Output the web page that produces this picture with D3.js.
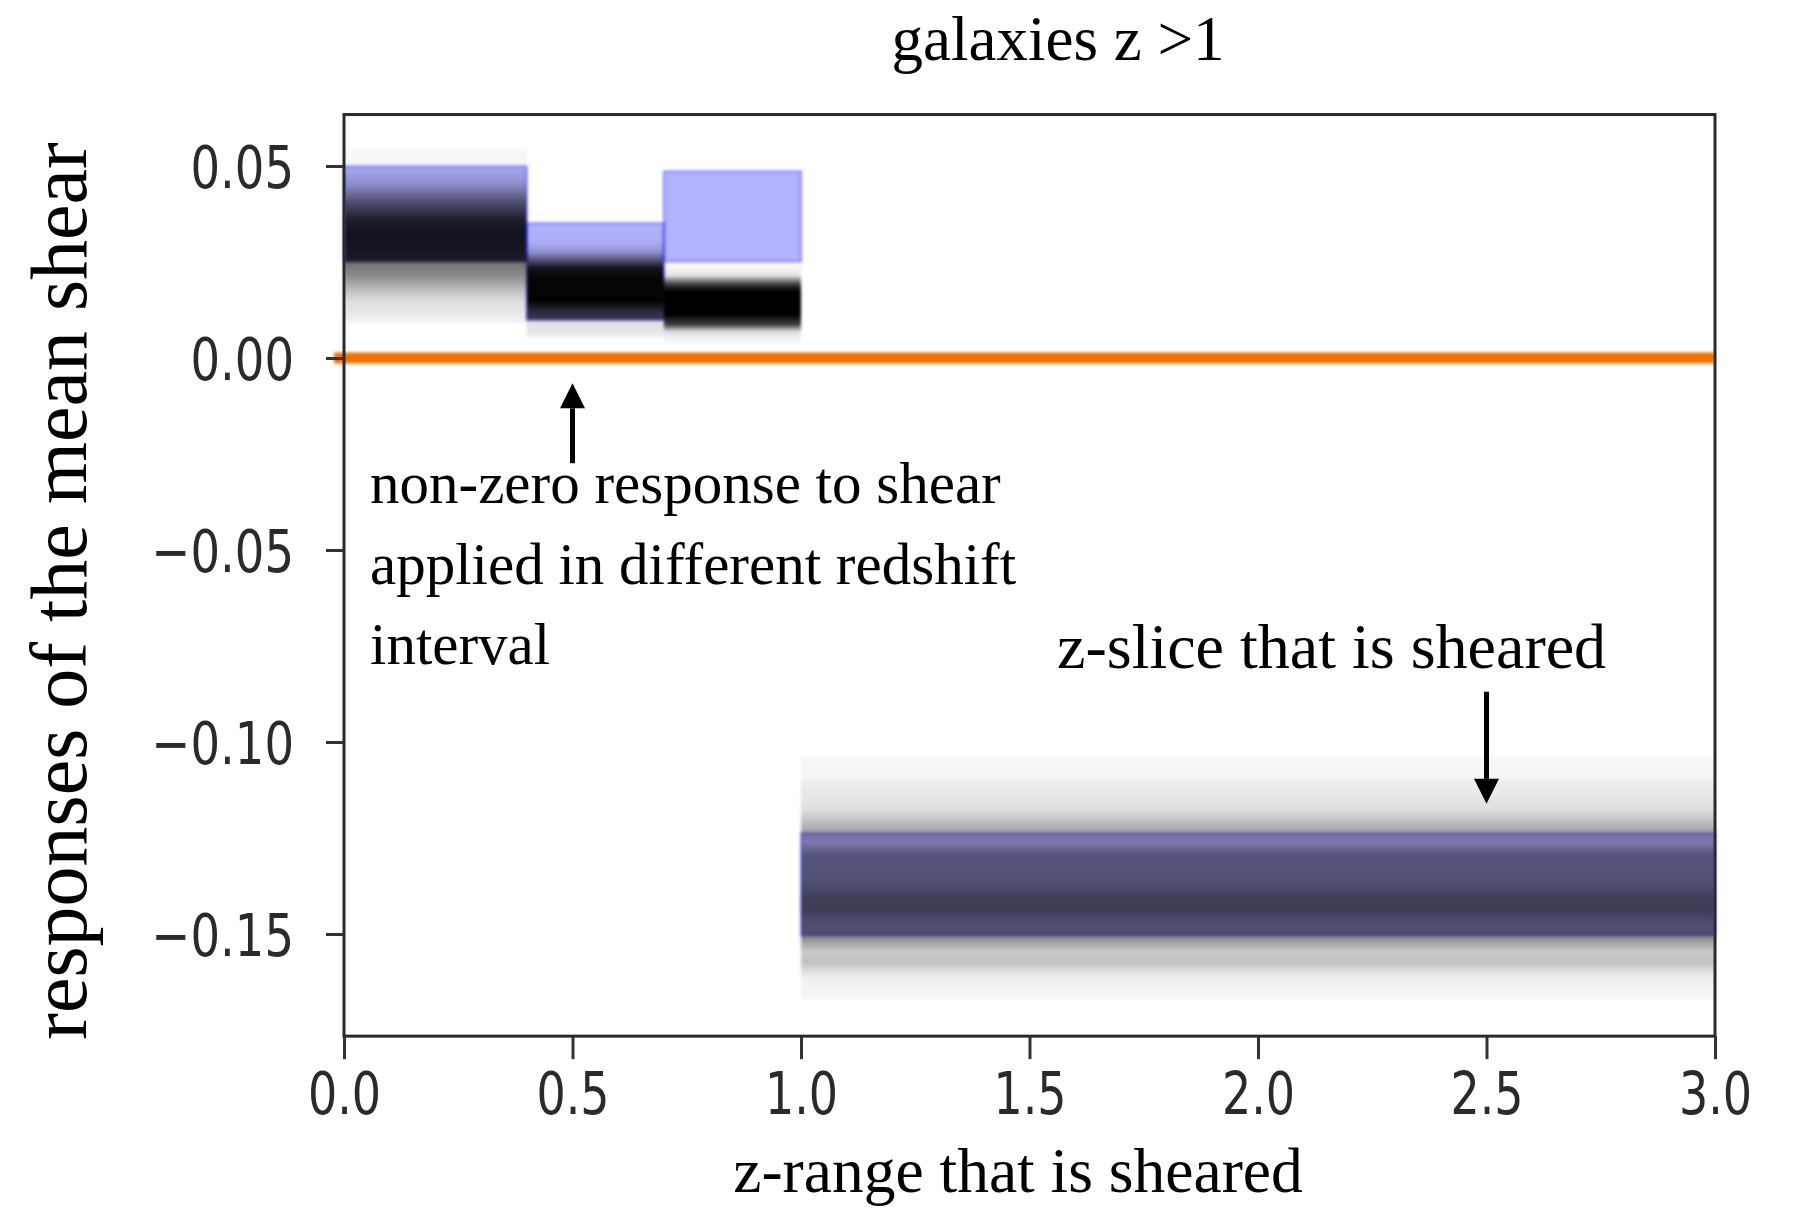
<!DOCTYPE html>
<html>
<head>
<meta charset="utf-8">
<script src="https://cdn.jsdelivr.net/npm/d3@7"></script>
<style>
  body { margin: 0; background: #fff; }
  svg { display: block; }
</style>
</head>
<body>
<div id="chart"></div>
<script>
// axis ticks and limits
const xTicks = [0, 0.5, 1.0, 1.5, 2.0, 2.5, 3.0];
const yTicks = [0.05, 0.00, -0.05, -0.10, -0.15];
const xLimits = [0, 3];
const yLimits = [-0.1766, 0.0634];

// redshift slices (z-range that is sheared)
const binStart = [0.0, 0.4, 0.7, 1.0];
const binEnd = [0.4, 0.7, 1.0, 3.0];

// expected response (blue boxes)
const blueLow = [0.0251, 0.0099, 0.0251, -0.1503];
const blueHigh = [0.0499, 0.0351, 0.0486, -0.1238];

// measured response: fraction of samples covering each value (top to bottom)
const coverage1 = [[0.0552, 0], [0.0540, 0.03], [0.0502, 0.04], [0.0452, 0.2], [0.0408, 0.55],
  [0.0363, 0.82], [0.0321, 0.9], [0.0277, 0.87], [0.0255, 0.85], [0.0248, 0.55], [0.0217, 0.47],
  [0.0180, 0.27], [0.0147, 0.13], [0.0103, 0.07], [0.0085, 0]];
const coverage2 = [[0.0355, 0], [0.0300, 0.03], [0.0275, 0.2], [0.0260, 0.45], [0.0234, 0.9],
  [0.0199, 0.98], [0.0147, 0.98], [0.0121, 0.75], [0.0103, 0.7], [0.0096, 0.12], [0.0065, 0.1],
  [0.0048, 0]];
const coverage3 = [[0.0245, 0], [0.0240, 0.03], [0.0215, 0.1], [0.0205, 0.4], [0.0190, 0.8],
  [0.0173, 1.0], [0.0113, 1.0], [0.0087, 0.75], [0.0069, 0.13], [0.0043, 0.03], [0.0035, 0]];
const coverage4 = [[-0.1030, 0], [-0.1040, 0.03], [-0.1095, 0.04], [-0.1105, 0.07], [-0.1173, 0.12],
  [-0.1208, 0.25], [-0.1234, 0.37], [-0.1260, 0.31], [-0.1294, 0.52], [-0.1364, 0.55],
  [-0.1408, 0.65], [-0.1442, 0.65], [-0.1468, 0.57], [-0.1500, 0.55], [-0.1512, 0.43],
  [-0.1547, 0.2], [-0.1573, 0.25], [-0.1599, 0.12], [-0.1616, 0.06], [-0.1668, 0.03], [-0.1675, 0]];
const coverages = [coverage1, coverage2, coverage3, coverage4];

// reference line at zero response
const zeroLineX = [-0.022, 3.0];

// annotation arrows
const arrowX = [0.5, 2.5];
const arrowTail = [-0.0274, -0.0869];
const arrowTip = [-0.0066, -0.1161];

const titleText = "galaxies z >1";
const xLabel = "z-range that is sheared";
const yLabel = "responses of the mean shear";
const noteLeft = ["non-zero response to shear", "applied in different redshift", "interval"];
const noteRight = "z-slice that is sheared";

const width = 1793, height = 1224;
const serif = "'Liberation Serif', 'Times New Roman', serif";
const sans = "'DejaVu Sans', sans-serif";

const x = d3.scaleLinear().domain(xLimits).range([344, 1715]);
const y = d3.scaleLinear().domain([0.05, -0.15]).range([166, 934]);

const svg = d3.select("#chart").append("svg")
  .attr("width", width)
  .attr("height", height);

const defs = svg.append("defs");
defs.append("filter").attr("id", "soft")
  .attr("x", "-5%").attr("y", "-5%").attr("width", "110%").attr("height", "110%")
  .append("feGaussianBlur").attr("stdDeviation", 1.6);

const plot = svg.append("g").attr("filter", "url(#soft)");

// blue boxes
binStart.forEach((b, i) => {
  plot.append("rect")
    .attr("x", x(b))
    .attr("y", y(blueHigh[i]))
    .attr("width", x(binEnd[i]) - x(b))
    .attr("height", y(blueLow[i]) - y(blueHigh[i]))
    .attr("fill", "blue").attr("fill-opacity", 0.3)
    .attr("stroke", "blue").attr("stroke-opacity", 0.3)
    .attr("stroke-width", 2.5);
});

// black sample density on top
coverages.forEach((cov, i) => {
  const top = cov[0][0], bottom = cov[cov.length - 1][0];
  const y1 = y(top), y2 = y(bottom);
  const grad = defs.append("linearGradient")
    .attr("id", "cov" + i)
    .attr("gradientUnits", "userSpaceOnUse")
    .attr("x1", 0).attr("x2", 0)
    .attr("y1", y1).attr("y2", y2);
  cov.forEach(d => {
    grad.append("stop")
      .attr("offset", (y(d[0]) - y1) / (y2 - y1))
      .attr("stop-color", "#000")
      .attr("stop-opacity", d[1]);
  });
  plot.append("rect")
    .attr("x", x(binStart[i]))
    .attr("y", y1)
    .attr("width", x(binEnd[i]) - x(binStart[i]))
    .attr("height", y2 - y1)
    .attr("fill", "url(#cov" + i + ")");
});

// zero line
plot.append("line")
  .attr("x1", x(zeroLineX[0])).attr("x2", x(zeroLineX[1]))
  .attr("y1", y(0)).attr("y2", y(0))
  .attr("stroke", "#f07100")
  .attr("stroke-width", 11);

// axes
const yAxis = svg.append("g")
  .attr("transform", `translate(${x(xLimits[0])},0)`)
  .call(d3.axisLeft(y).tickValues(yTicks).tickSize(18).tickSizeOuter(0)
    .tickFormat(d => d3.format(".2f")(d).replace("-", "\u2212")));
yAxis.select(".domain").remove();
yAxis.selectAll(".tick line").attr("stroke", "#333").attr("stroke-width", 3);
yAxis.selectAll(".tick text")
  .attr("x", -50)
  .attr("dy", "0.36em")
  .attr("transform", "scale(1,1.28)")
  .attr("font-family", sans)
  .attr("font-size", 46.5)
  .attr("fill", "#2a2a2a");

const xAxis = svg.append("g")
  .attr("transform", `translate(0,${y(yLimits[0])})`)
  .call(d3.axisBottom(x).tickValues(xTicks).tickSize(23).tickSizeOuter(0)
    .tickFormat(d3.format(".1f")));
xAxis.select(".domain").remove();
xAxis.selectAll(".tick line").attr("stroke", "#333").attr("stroke-width", 3);
xAxis.selectAll(".tick text")
  .attr("y", 61)
  .attr("dy", 0)
  .attr("transform", "scale(1,1.28)")
  .attr("font-family", sans)
  .attr("font-size", 46)
  .attr("fill", "#2a2a2a");

// frame
svg.append("rect")
  .attr("x", x(xLimits[0]))
  .attr("y", y(yLimits[1]))
  .attr("width", x(xLimits[1]) - x(xLimits[0]))
  .attr("height", y(yLimits[0]) - y(yLimits[1]))
  .attr("fill", "none")
  .attr("stroke", "#2a2a2a")
  .attr("stroke-width", 3);

// arrows
arrowX.forEach((ax, i) => {
  const px = x(ax), yt = y(arrowTail[i]), yp = y(arrowTip[i]);
  const dir = yp < yt ? 1 : -1;
  const headLen = 25, headHalf = 12.5;
  svg.append("line")
    .attr("x1", px).attr("x2", px)
    .attr("y1", yt).attr("y2", yp + dir * headLen)
    .attr("stroke", "#000").attr("stroke-width", 5);
  svg.append("path")
    .attr("d", d3.line()([[px, yp], [px - headHalf, yp + dir * headLen], [px + headHalf, yp + dir * headLen]]) + "Z")
    .attr("fill", "#000");
});

// texts
svg.append("text")
  .attr("x", 1058).attr("y", 60)
  .attr("text-anchor", "middle")
  .attr("font-family", serif).attr("font-size", 63)
  .text(titleText);

svg.append("text")
  .attr("x", 1018).attr("y", 1192)
  .attr("text-anchor", "middle")
  .attr("font-family", serif).attr("font-size", 63.5)
  .text(xLabel);

svg.append("text")
  .attr("transform", "translate(86,591) rotate(-90)")
  .attr("text-anchor", "middle")
  .attr("font-family", serif).attr("font-size", 80)
  .text(yLabel);

noteLeft.forEach((line, i) => {
  svg.append("text")
    .attr("x", 370).attr("y", 503 + i * 80.5)
    .attr("font-family", serif).attr("font-size", 59)
    .text(line);
});

svg.append("text")
  .attr("x", 1057).attr("y", 668)
  .attr("font-family", serif).attr("font-size", 64)
  .text(noteRight);
</script>
</body>
</html>
